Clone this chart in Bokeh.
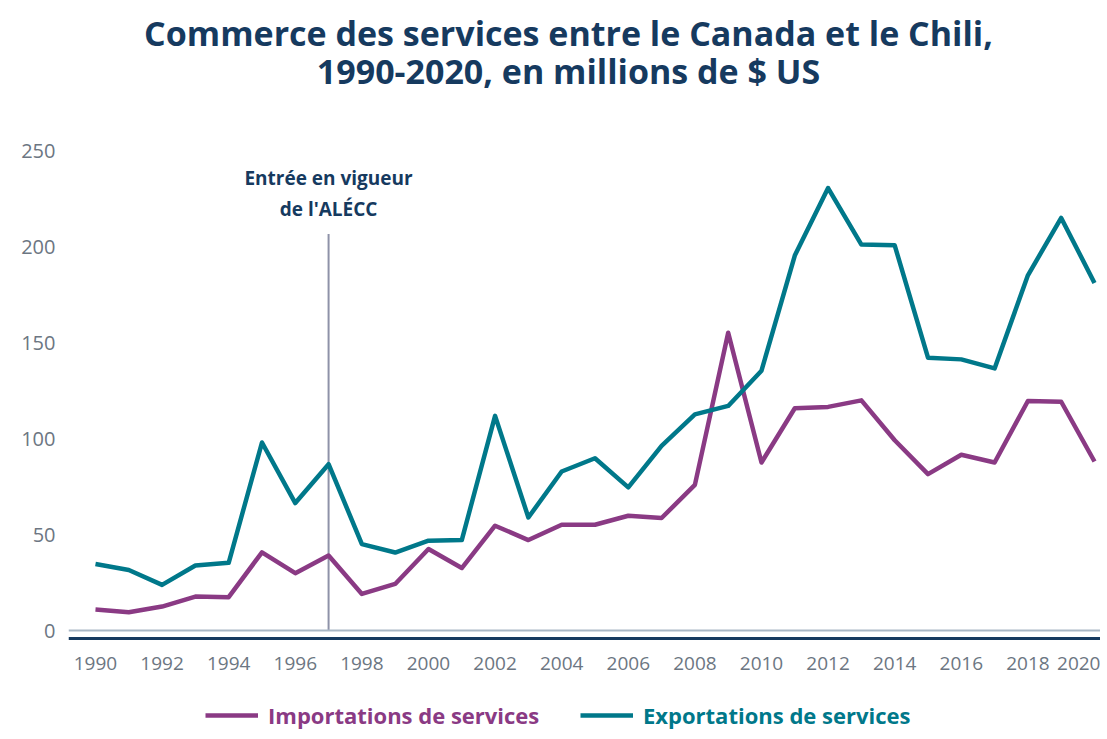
from bokeh.plotting import figure
from bokeh.models import Span, Label, Legend, LegendItem, FixedTicker
from bokeh.embed import file_html
from bokeh.resources import INLINE

years = list(range(1990, 2021))
imports = [10.9, 9.5, 12.5, 17.7, 17.4, 40.8, 29.9, 39.1, 19.1, 24.3,
           42.5, 32.6, 54.7, 47.2, 55.2, 55.2, 59.9, 58.7, 76.0, 155.4,
           87.7, 116.0, 116.7, 120.1, 99.3, 81.6, 91.7, 87.7, 119.8, 119.4, 88.2]
exports = [34.7, 31.6, 23.8, 33.9, 35.3, 98.1, 66.5, 86.8, 45.1, 40.7,
           46.9, 47.2, 112.0, 59.0, 83.0, 89.9, 74.7, 96.4, 112.8, 117.2,
           135.6, 195.7, 230.9, 201.4, 201.0, 142.4, 141.5, 136.8, 185.4, 215.3, 181.4]
x_ticks = list(range(1990, 2021, 2))
y_ticks = [0, 50, 100, 150, 200, 250]
event_year = 1997
event_top = 207
event_text = "Entrée en vigueur\nde l'ALÉCC"
title_line1 = "Commerce des services entre le Canada et le Chili,"
title_line2 = "1990-2020, en millions de $ US"
label_imp = "Importations de services"
label_exp = "Exportations de services"

NAVY = "#163a5f"
PURPLE = "#8a3a84"
TEAL = "#00788a"
GREY = "#6c7682"
FONT = "Open Sans"

X0, X1 = 1989.19, 2020.18
p = figure(width=1100, height=735, output_backend="svg", toolbar_location=None,
           x_range=(X0, X1), y_range=(-54.8, 328.8),
           min_border_left=68, min_border_right=0, min_border_bottom=0, min_border_top=0)
p.outline_line_color = None
p.xgrid.visible = False
p.ygrid.visible = False

# title, as two centred lines at the top of the canvas
title_x = X0 + (568 - 68) / 33.3
for txt, ty in ((title_line1, 312.0), (title_line2, 292.2)):
    p.add_layout(Label(x=title_x, y=ty, text=txt, text_align="center", text_baseline="middle",
                       text_font=FONT, text_font_size="34px", text_font_style="bold",
                       text_color=NAVY))

p.xaxis.ticker = FixedTicker(ticks=x_ticks)
p.yaxis.ticker = FixedTicker(ticks=y_ticks)
for ax in (p.xaxis, p.yaxis):
    ax.major_tick_line_color = None
    ax.minor_tick_line_color = None
    ax.major_label_text_font = FONT
    ax.major_label_text_font_size = "19px"
    ax.major_label_text_color = GREY
p.xaxis.fixed_location = -4.2
p.xaxis.axis_line_color = NAVY
p.xaxis.axis_line_width = 3
p.xaxis.major_label_standoff = 12
p.yaxis.axis_line_color = None
p.yaxis.major_label_standoff = 7
p.yaxis.major_label_text_font_size = "20px"

p.add_layout(Span(location=0, dimension="width", line_color="#a9b7c5", line_width=2))

p.segment(x0=[event_year], y0=[0], x1=[event_year], y1=[event_top],
          line_color="#8e92a8", line_width=2)
p.add_layout(Label(x=event_year, y=228, text=event_text, text_align="center",
                   text_baseline="middle", text_font=FONT, text_font_size="19px",
                   text_font_style="bold", text_color=NAVY))

r_imp = p.line(years, imports, line_color=PURPLE, line_width=4.5, line_join="round")
r_exp = p.line(years, exports, line_color=TEAL, line_width=4.5, line_join="round")

for r, lab, col, xloc in ((r_imp, label_imp, PURPLE, 137), (r_exp, label_exp, TEAL, 512)):
    lg = Legend(items=[LegendItem(label=lab, renderers=[r])], location=(xloc, 5),
                orientation="horizontal", padding=0, margin=0, border_line_color=None,
                background_fill_alpha=0, glyph_width=53, glyph_height=22, label_height=22,
                label_standoff=10, label_text_font=FONT, label_text_font_size="22px",
                label_text_font_style="bold", label_text_color=col)
    p.add_layout(lg, "center")

open("out.html", "w").write(file_html(p, INLINE))
